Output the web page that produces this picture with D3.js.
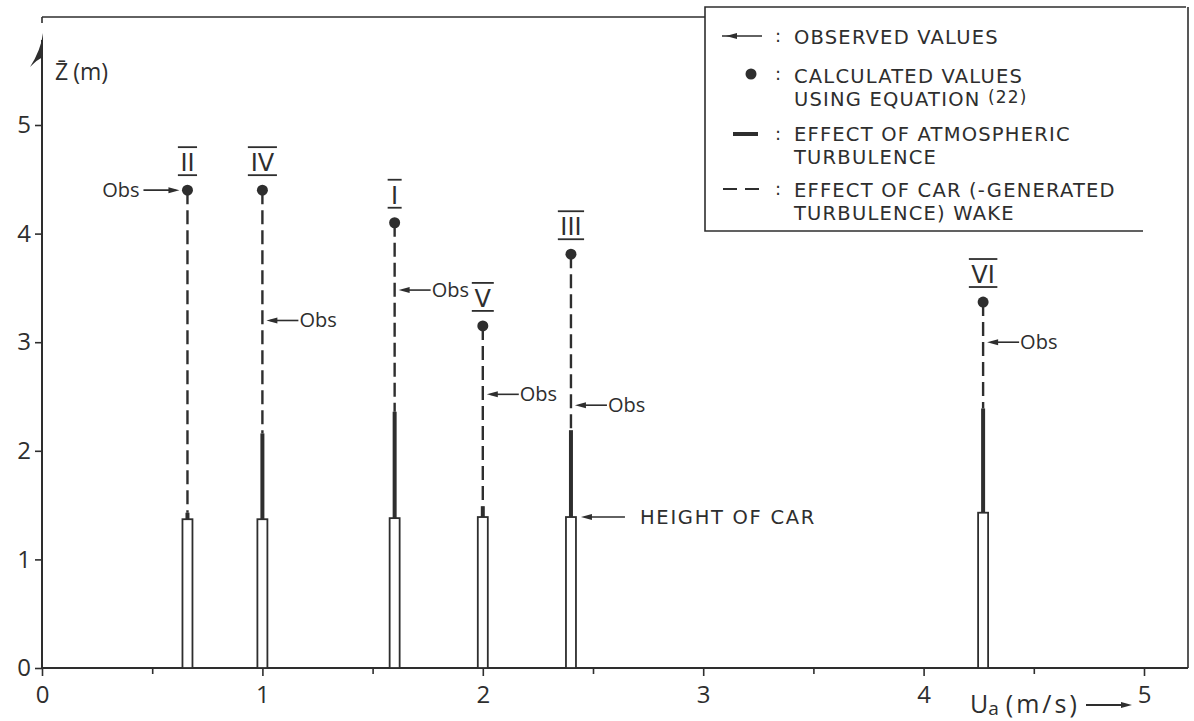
<!DOCTYPE html>
<html><head><meta charset="utf-8">
<script src="https://cdn.jsdelivr.net/npm/d3@7"></script>
<style>body{margin:0;background:#fff}</style>
</head><body>
<svg id="c" width="1194" height="721"></svg>
<script>
// ---- data ----
const cases       = ["II","IV","I","V","III","VI"];
const windSpeed   = [0.66, 1.0, 1.6, 2.0, 2.4, 4.27];   // Ua (m/s)
const calculated  = [4.40, 4.40, 4.10, 3.15, 3.81, 3.37]; // eq. (22)
const observed    = [4.40, 3.20, 3.48, 2.52, 2.42, 3.00];
const obsSide     = ["left","right","right","right","right","right"];
const carHeight   = [1.37, 1.37, 1.38, 1.39, 1.39, 1.43];
const atmosTop    = [1.43, 2.16, 2.36, 1.49, 2.19, 2.39];
const xTicks      = [0,1,2,3,4,5];
const xMinorTicks = [0.5,1.5,2.5,3.5,4.5];
const yTicks      = [0,1,2,3,4,5];
const legendLabels = [
  ["OBSERVED VALUES"],
  ["CALCULATED VALUES", "USING EQUATION "],
  ["EFFECT OF ATMOSPHERIC", "TURBULENCE"],
  ["EFFECT OF CAR (-GENERATED", "TURBULENCE) WAKE"]
];
const carLabel = "HEIGHT OF CAR";

// ---- drawing ----
const ink = "#2e2e2e";
const svg = d3.select("#c");
const x = d3.scaleLinear().domain([0,5]).range([42,1144]);
const y = d3.scaleLinear().domain([0,5]).range([668,125]);
const tickFont = "'Open Sans', sans-serif";
const legFont = "'DejaVu Sans', sans-serif";

function arrowHead(g, tipX, tipY, dir){ // dir = -1 points left, +1 points right
  const L = 11, W = 3;
  g.append("path")
    .attr("d", `M${tipX},${tipY} L${tipX - dir*L},${tipY - W} L${tipX - dir*L},${tipY + W} Z`)
    .attr("fill", ink);
}

// frame
svg.append("line").attr("x1",42).attr("y1",17).attr("x2",705).attr("y2",17)
  .attr("stroke",ink).attr("stroke-width",1.6);
svg.append("line").attr("x1",42).attr("y1",17).attr("x2",42).attr("y2",23)
  .attr("stroke",ink).attr("stroke-width",1.6);
svg.append("line").attr("x1",1188).attr("y1",7).attr("x2",1188).attr("y2",y(0))
  .attr("stroke",ink).attr("stroke-width",1.6);

// axes
const yAx = svg.append("g").attr("transform","translate(42,0)")
  .call(d3.axisLeft(y).tickValues(yTicks).tickSize(7).tickPadding(4).tickFormat(d3.format("d")));
yAx.select(".domain").remove();
yAx.selectAll("line").attr("stroke",ink).attr("stroke-width",1.6);
yAx.selectAll("text").attr("font-family",tickFont).attr("font-size",24).attr("fill",ink);
svg.append("line").attr("x1",42).attr("x2",42).attr("y1",y(0)).attr("y2",40)
  .attr("stroke",ink).attr("stroke-width",2);
svg.append("path").attr("d","M43,33 Q41,50 30,67 Q38,59 43,57 Z").attr("fill",ink);

const xAx = svg.append("g").attr("transform",`translate(0,${y(0)})`)
  .call(d3.axisBottom(x).tickValues(xTicks).tickSize(8).tickPadding(10).tickFormat(d3.format("d")));
xAx.select(".domain").remove();
xAx.selectAll("line").attr("stroke",ink).attr("stroke-width",1.6);
xAx.selectAll("text").attr("font-family",tickFont).attr("font-size",24).attr("fill",ink);
const xMin = svg.append("g").attr("transform",`translate(0,${y(0)})`)
  .call(d3.axisBottom(x).tickValues(xMinorTicks).tickSize(6).tickFormat(""));
xMin.select(".domain").remove();
xMin.selectAll("line").attr("stroke",ink).attr("stroke-width",1.6);
svg.append("line").attr("x1",42).attr("x2",1188).attr("y1",y(0)).attr("y2",y(0))
  .attr("stroke",ink).attr("stroke-width",2);

// axis titles
const zt = svg.append("text").attr("x",55).attr("y",80).attr("font-family",tickFont)
  .attr("font-size",23).attr("fill",ink);
zt.append("tspan").text("Z\u0304");
zt.append("tspan").attr("dx",5).text("(m)");
const ut = svg.append("text").attr("x",970).attr("y",713).attr("font-family",tickFont)
  .attr("font-size",25).attr("fill",ink);
ut.append("tspan").text("U");
ut.append("tspan").attr("font-size",19).attr("dy",2).text("a");
ut.append("tspan").attr("dy",-2).attr("dx",7).attr("letter-spacing",3).text("(m/s)");
svg.append("line").attr("x1",1086).attr("x2",1124).attr("y1",705).attr("y2",705)
  .attr("stroke",ink).attr("stroke-width",1.8);
arrowHead(svg, 1132, 705, 1);

// cars / turbulence
const idx = d3.range(cases.length);
const marks = svg.append("g");
idx.forEach(i => {
  const cx = x(windSpeed[i]);
  // dashed wake line (from dot down)
  marks.append("line").attr("x1",cx).attr("x2",cx)
    .attr("y1",y(calculated[i])).attr("y2",y(atmosTop[i]))
    .attr("stroke",ink).attr("stroke-width",2.4).attr("stroke-dasharray","14,6");
  // atmospheric turbulence
  marks.append("line").attr("x1",cx).attr("x2",cx)
    .attr("y1",y(atmosTop[i])).attr("y2",y(carHeight[i]))
    .attr("stroke",ink).attr("stroke-width",4);
  // car
  marks.append("rect").attr("x",cx-5).attr("width",10)
    .attr("y",y(carHeight[i])).attr("height",y(0)-y(carHeight[i]))
    .attr("fill","#fff").attr("stroke",ink).attr("stroke-width",1.8);
  // calculated value
  marks.append("circle").attr("cx",cx).attr("cy",y(calculated[i])).attr("r",5.5).attr("fill",ink);
  // roman numeral label
  const lab = marks.append("text").attr("x",cx).attr("y",y(calculated[i])-19)
    .attr("text-anchor","middle").attr("font-family",legFont).attr("font-size",24)
    .attr("fill",ink).text(cases[i]);
  const bb = lab.node().getBBox();
  const w = Math.max(bb.width + 5, 14);
  [y(calculated[i])-15, y(calculated[i])-43].forEach(ly => {
    marks.append("line").attr("x1",cx-w/2).attr("x2",cx+w/2).attr("y1",ly).attr("y2",ly)
      .attr("stroke",ink).attr("stroke-width",1.8);
  });
  // observed value
  const oy = y(observed[i]);
  if (obsSide[i] === "left") {
    const tip = cx - 8;
    marks.append("line").attr("x1",tip-36).attr("x2",tip-4).attr("y1",oy).attr("y2",oy)
      .attr("stroke",ink).attr("stroke-width",1.6);
    arrowHead(marks, tip, oy, 1);
    marks.append("text").attr("x",tip-40).attr("y",oy+7).attr("text-anchor","end")
      .attr("font-family",tickFont).attr("font-size",20).attr("fill",ink).text("Obs");
  } else {
    const tip = cx + 4;
    marks.append("line").attr("x1",tip+4).attr("x2",tip+32).attr("y1",oy).attr("y2",oy)
      .attr("stroke",ink).attr("stroke-width",1.6);
    arrowHead(marks, tip, oy, -1);
    marks.append("text").attr("x",tip+33).attr("y",oy+7)
      .attr("font-family",tickFont).attr("font-size",20).attr("fill",ink).text("Obs");
  }
});

// height of car annotation (case III)
{
  const cx = x(windSpeed[4]) + 10, cy = y(carHeight[4]);
  svg.append("line").attr("x1",cx+4).attr("x2",cx+44).attr("y1",cy).attr("y2",cy)
    .attr("stroke",ink).attr("stroke-width",1.6);
  arrowHead(svg, cx, cy, -1);
  svg.append("text").attr("x",640).attr("y",cy+7).attr("font-family",legFont)
    .attr("font-size",19.5).attr("letter-spacing",1.7).attr("fill",ink).text(carLabel);
}

// legend
const lg = svg.append("g");
lg.append("path").attr("d","M1186,7 L705,7 L705,231 L1143,231")
  .attr("fill","none").attr("stroke",ink).attr("stroke-width",1.6);
const rowY = [[44],[83,106],[141,164],[197,220]];
const symY = [36, 74, 134, 189];
legendLabels.forEach((lines,k) => {
  lines.forEach((t,j) => {
    const tx = lg.append("text").attr("x",794).attr("y",rowY[k][j]).attr("font-family",legFont)
      .attr("font-size",19.5).attr("letter-spacing",1.2).attr("fill",ink).text(t);
    if (k === 1 && j === 1) {
      tx.append("tspan").attr("font-size",17).attr("dy",-3).text("(22)");
    }
  });
  lg.append("text").attr("x",775).attr("y",symY[k]+6).attr("font-family",legFont)
    .attr("font-size",18).attr("fill",ink).text(":");
});
lg.append("line").attr("x1",722).attr("x2",762).attr("y1",symY[0]).attr("y2",symY[0])
  .attr("stroke",ink).attr("stroke-width",1.6);
arrowHead(lg, 726, symY[0], -1);
lg.append("circle").attr("cx",751).attr("cy",symY[1]).attr("r",5.5).attr("fill",ink);
lg.append("line").attr("x1",733).attr("x2",758).attr("y1",symY[2]).attr("y2",symY[2])
  .attr("stroke",ink).attr("stroke-width",4);
lg.append("line").attr("x1",723).attr("x2",759).attr("y1",symY[3]).attr("y2",symY[3])
  .attr("stroke",ink).attr("stroke-width",2).attr("stroke-dasharray","14,8");
</script>
</body></html>
